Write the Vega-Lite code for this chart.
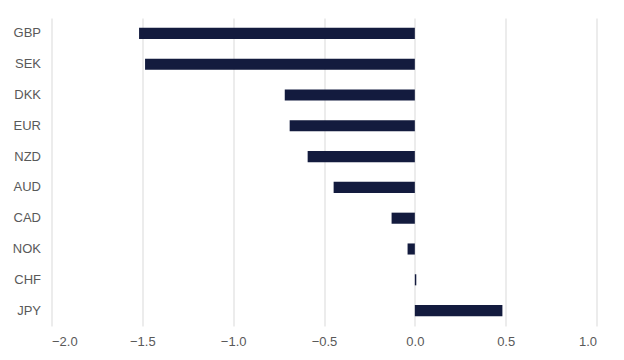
{
  "$schema": "https://vega.github.io/schema/vega-lite/v6.json",
  "width": 545,
  "height": 308,
  "autosize": "none",
  "padding": {"left": 51.5, "top": 18, "right": 27.5, "bottom": 34},
  "background": "white",
  "data": {
    "values": [
      {"ccy": "GBP", "value": -1.518},
      {"ccy": "SEK", "value": -1.485},
      {"ccy": "DKK", "value": -0.716},
      {"ccy": "EUR", "value": -0.689},
      {"ccy": "NZD", "value": -0.59},
      {"ccy": "AUD", "value": -0.447},
      {"ccy": "CAD", "value": -0.128},
      {"ccy": "NOK", "value": -0.04},
      {"ccy": "CHF", "value": 0.008},
      {"ccy": "JPY", "value": 0.482}
    ]
  },
  "mark": {"type": "bar", "color": "#131b3e"},
  "encoding": {
    "y": {
      "field": "ccy",
      "type": "nominal",
      "sort": null,
      "scale": {"paddingInner": 0.64, "paddingOuter": 0.32},
      "axis": {
        "title": null,
        "domain": false,
        "ticks": false,
        "grid": false,
        "labelPadding": 11,
        "labelFont": "Liberation Sans",
        "labelFontSize": 13,
        "labelColor": "#595959"
      }
    },
    "x": {
      "field": "value",
      "type": "quantitative",
      "scale": {"domain": [-2, 1], "nice": false, "zero": false},
      "axis": {
        "title": null,
        "values": [-2, -1.5, -1, -0.5, 0, 0.5, 1],
        "format": ".1f",
        "domain": false,
        "ticks": false,
        "grid": true,
        "gridColor": "#d9d9d9",
        "gridWidth": 1,
        "labelPadding": 9,
        "labelFont": "Liberation Sans",
        "labelFontSize": 13,
        "labelColor": "#595959"
      }
    }
  },
  "config": {"view": {"stroke": null}}
}
